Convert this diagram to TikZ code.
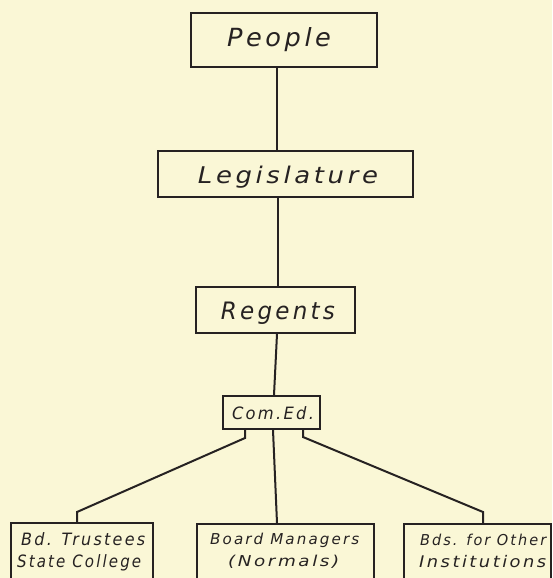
\documentclass[tikz,border=0pt]{standalone}
\usepackage{fontspec}
\usetikzlibrary{calc}
\definecolor{paper}{RGB}{250,247,214}
\definecolor{ink}{RGB}{38,34,34}
\newfontfamily\handfont[LetterSpace=14]{DejaVu Sans}
% hand-lettered word: set in oblique, then stretched to the given width
\newcommand{\hw}[2]{\resizebox{#1}{\height}{\handfont\itshape #2}}
\begin{document}
\begin{tikzpicture}[x=1pt,y=-1pt,
  box/.style={draw=ink, line width=2pt, rectangle, inner sep=0pt},
  lbl/.style={text=ink, inner sep=0pt},
  link/.style={draw=ink, line width=2pt, line join=miter}]
\useasboundingbox (0,0) rectangle (552,578);
\fill[paper] (0,0) rectangle (552,578);
\clip (0,0) rectangle (552,578);

% upper chain of offices
\node[box, minimum width=186pt, minimum height=54pt] (people) at (284,40) {};
\node[lbl, font=\fontsize{25}{28}\selectfont, anchor=base] (tpeople) at (279,47) {\hw{104pt}{People}};

\node[box, minimum width=255pt, minimum height=46pt] (legis) at (285.5,174) {};
\node[lbl, font=\fontsize{23}{26}\selectfont, anchor=base] (tlegis) at (288,183) {\hw{180pt}{Legislature}};

\node[box, minimum width=159pt, minimum height=46pt] (regents) at (275.5,310) {};
\node[lbl, font=\fontsize{24}{28}\selectfont, anchor=base] (tregents) at (278,319) {\hw{114pt}{Regents}};

\node[box, minimum width=97pt, minimum height=33pt] (comed) at (271.5,412.5) {};
\node[lbl, font=\fontsize{17}{20}\selectfont, anchor=base] (tcomed) at (273,419) {\hw{82pt}{Com.Ed.}};

% boards at the foot, running off the sheet
\node[box, minimum width=142pt, minimum height=90pt, anchor=north west] (trustees) at (10,522) {};
\node[lbl, font=\fontsize{17}{20}\selectfont, anchor=base west] (ttr1) at (21,545) {\hw{124pt}{Bd. Trustees}};
\node[lbl, font=\fontsize{17}{20}\selectfont, anchor=base west] (ttr2) at (17,567) {\hw{124pt}{State College}};

\node[box, minimum width=177pt, minimum height=90pt, anchor=north west] (managers) at (196,523) {};
\node[lbl, font=\fontsize{15}{18}\selectfont, anchor=base west] (tman1) at (210,544) {\hw{149pt}{Board Managers}};
\node[lbl, font=\fontsize{15}{18}\selectfont, anchor=base west] (tman2) at (228,566) {\hw{111pt}{(Normals)}};

\node[box, minimum width=147pt, minimum height=90pt, anchor=north west] (others) at (403,523) {};
\node[lbl, font=\fontsize{15}{18}\selectfont, anchor=base west] (toth1) at (420,545) {\hw{126pt}{Bds. for Other}};
\node[lbl, font=\fontsize{16}{18}\selectfont, anchor=base west] (toth2) at (419,567) {\hw{127pt}{Institutions}};

% connecting lines
\draw[link] (people.south -| 277,0) -- (legis.north -| 277,0);
\draw[link] (legis.south -| 278,0) -- (regents.north -| 278,0);
\draw[link] (regents.south -| 277,0) -- (comed.north -| 274,0);
\draw[link] (comed.south -| 245,0) -- (245,438) -- (77,512) -- (trustees.north -| 77,0);
\draw[link] (comed.south -| 273,0) -- (managers.north -| 277,0);
\draw[link] (comed.south -| 303,0) -- (303,437) -- (483,512) -- (others.north -| 483,0);
\end{tikzpicture}
\end{document}
